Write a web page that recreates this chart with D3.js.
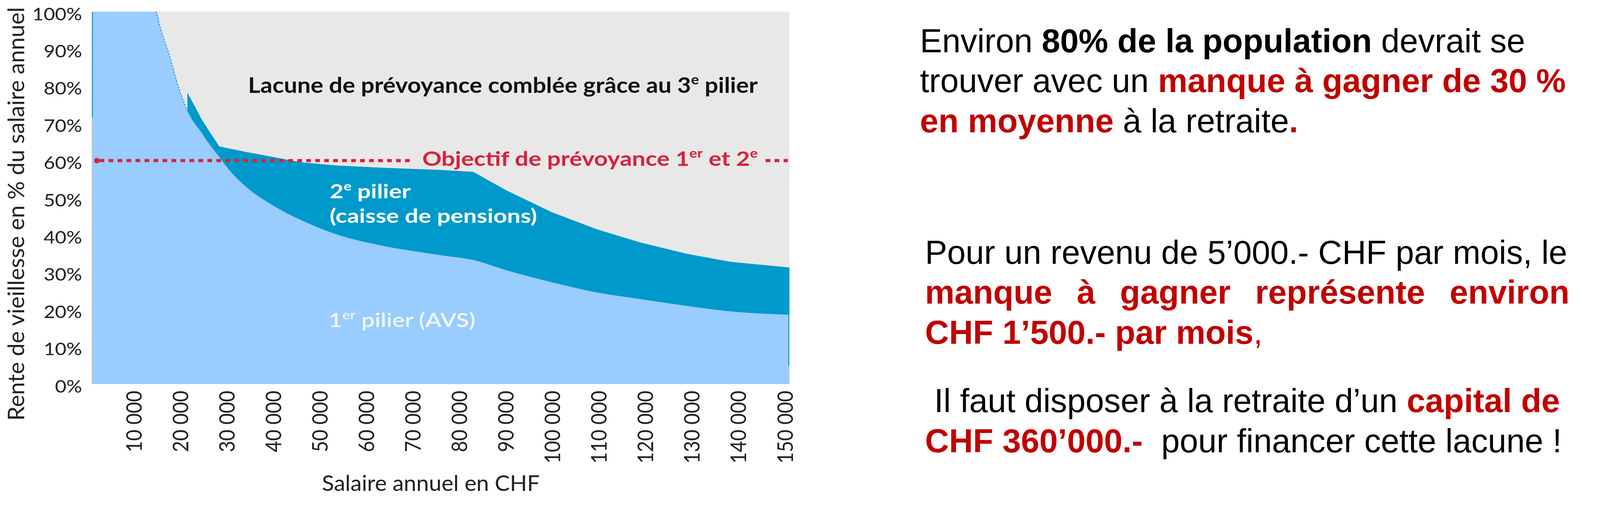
<!DOCTYPE html>
<html>
<head>
<meta charset="utf-8">
<script src="https://cdn.jsdelivr.net/npm/d3@7"></script>
<style>
  html, body { margin: 0; padding: 0; background: #fff; }
  svg { display: block; }
  text { white-space: pre; }
</style>
</head>
<body>
<div id="chart"></div>
<script>
// salaire annuel en CHF
var salaries = [1000, 14800, 16000, 17500, 19900, 21550, 24700, 26000, 28400, 30000, 34300, 39100,
                44000, 46400, 53600, 63200, 76000, 83000, 90000, 100000, 109500, 119000, 128800, 138400, 151000];
// rente 1er pilier (AVS) en % du salaire
var avsRate = [100, 100, 94.6, 89.0, 78.8, 73.4, 67.3, 64.9, 61.0, 58.3, 52.8, 48.6,
               45.2, 43.8, 40.2, 37.2, 34.6, 33.3, 30.6, 27.3, 24.6, 22.8, 21.0, 19.5, 18.6];
// rente 1er + 2e pilier en % du salaire (pas de 2e pilier sous ~21 500)
var totalRate = [null, null, null, null, null, 78.3, 70.9, 68.4, 63.8, 63.4, 62.3, 61.2,
                 60.0, 59.5, 58.7, 58.1, 57.5, 57.0, 52.1, 46.1, 41.6, 38.0, 35.0, 32.8, 31.3];

var xTicks = [10000, 20000, 30000, 40000, 50000, 60000, 70000, 80000, 90000, 100000,
              110000, 120000, 130000, 140000, 150000];
var yTicks = [0, 10, 20, 30, 40, 50, 60, 70, 80, 90, 100];
var objective = 60;

// petits traits foncés visibles sur les bords de la zone AVS
var leftEdge = [100, 71.5];
var rightEdge = [18.6, 5];
var avsEdgeRange = [14800, 21550];

var W = 4103, H = 1312;
var red = '#c00000', objRed = '#d9213a';
var chartFont = 'Lato, "Open Sans", sans-serif';
var textFont = '"Liberation Sans", Arial, sans-serif';

function draw() {
	var svg = d3.select('#chart').append('svg')
	            .attr('width', W)
	            .attr('height', H);

	var x = d3.scaleLinear().domain([1000, 151000]).range([235, 2021]);
	var y = d3.scaleLinear().domain([0, 100]).range([984, 30]);

	var rows = salaries.map(function (s, i) {
		return { s: s, avs: avsRate[i], total: totalRate[i] };
	});

	// fond gris = lacune de prévoyance
	svg.append('rect')
	   .attr('x', x(1000)).attr('y', y(100))
	   .attr('width', x(151000) - x(1000))
	   .attr('height', y(0) - y(100))
	   .style('fill', '#e8e8e8');

	// 1er + 2e pilier (angles nets), puis l'AVS (courbe lisse) par-dessus
	var totalArea = d3.area()
	                  .defined(function (d) { return d.total != null; })
	                  .x(function (d) { return x(d.s); })
	                  .y0(y(0))
	                  .y1(function (d) { return y(d.total); });

	var avsArea = d3.area()
	                .curve(d3.curveMonotoneX)
	                .x(function (d) { return x(d.s); })
	                .y0(y(0))
	                .y1(function (d) { return y(d.avs); });

	svg.append('path').datum(rows).attr('d', totalArea).style('fill', '#0099cc');
	svg.append('path').datum(rows).attr('d', avsArea).style('fill', '#99ccff');

	// traits de bord
	svg.append('line')
	   .attr('x1', x(1000) + 1).attr('x2', x(1000) + 1)
	   .attr('y1', y(0)).attr('y2', y(leftEdge[1]))
	   .style('stroke', '#bfbfbf').style('stroke-width', 2);
	svg.append('line')
	   .attr('x1', x(1000) + 1.5).attr('x2', x(1000) + 1.5)
	   .attr('y1', y(leftEdge[0])).attr('y2', y(leftEdge[1]))
	   .style('stroke', '#2a9fd0').style('stroke-width', 3);
	svg.append('line')
	   .attr('x1', x(151000) - 1.5).attr('x2', x(151000) - 1.5)
	   .attr('y1', y(rightEdge[0])).attr('y2', y(rightEdge[1]))
	   .style('stroke', '#2a9fd0').style('stroke-width', 3);
	svg.append('path')
	   .datum(rows.filter(function (d) { return d.s >= avsEdgeRange[0] && d.s <= avsEdgeRange[1]; }))
	   .attr('d', d3.line().curve(d3.curveMonotoneX)
	                .x(function (d) { return x(d.s); }).y(function (d) { return y(d.avs); }))
	   .style('fill', 'none').style('stroke', '#1a9ad0')
	   .style('stroke-width', 2.5).style('stroke-dasharray', '4 4');

	// axe Y
	var yAxis = svg.append('g')
	               .attr('transform', 'translate(' + x(1000) + ',0)')
	               .call(d3.axisLeft(y).tickValues(yTicks).tickSize(0).tickPadding(25)
	                       .tickFormat(function (d) { return d + '%'; }));
	yAxis.select('.domain').remove();
	yAxis.selectAll('text')
	     .attr('x', 0).attr('dy', '0.48em')
	     .attr('transform', 'translate(-25,0) scale(1.14,1)')
	     .style('font-family', chartFont).style('font-size', '44px').style('fill', '#222');

	// axe X
	var xAxis = svg.append('g')
	               .attr('transform', 'translate(0,1001)')
	               .call(d3.axisBottom(x).tickValues(xTicks).tickSize(0)
	                       .tickFormat(function (d) { return d3.format(',')(d).replace(/,/g, ' '); }));
	xAxis.select('.domain').remove();
	xAxis.selectAll('text')
	     .attr('x', 0).attr('y', 0).attr('dy', '0.35em')
	     .attr('text-anchor', 'end')
	     .attr('transform', 'scale(1.14,1) rotate(-90)')
	     .style('font-family', chartFont).style('font-size', '50px').style('fill', '#222');

	// titres des axes
	var yTitle = svg.append('text')
	   .attr('text-anchor', 'middle')
	   .style('font-family', chartFont).style('font-size', '58px').style('fill', '#222')
	   .text('Rente de vieillesse en % du salaire annuel');
	var yLen = yTitle.node().getComputedTextLength();
	yTitle.attr('x', 0).attr('y', 0)
	      .attr('transform', 'translate(62,548) rotate(-90) scale(' + (1060 / yLen) + ',1)');

	var xTitle = svg.append('text')
	   .style('font-family', chartFont).style('font-size', '56px').style('fill', '#222')
	   .text('Salaire annuel en CHF');
	fitText(xTitle, 824, 1258, 558);

	// libellés dans le graphique
	var lacune = svg.append('text')
	   .style('font-family', chartFont).style('font-size', '56px')
	   .style('font-weight', 'bold').style('fill', '#111');
	addParts(lacune, [['Lacune de prévoyance comblée grâce au 3'], ['e', 'sup'], [' pilier']], 56);
	fitText(lacune, 635, 238, 1305);

	var obj = svg.append('text')
	   .style('font-family', chartFont).style('font-size', '52px')
	   .style('font-weight', 'bold').style('fill', objRed);
	addParts(obj, [['Objectif de prévoyance 1'], ['er', 'sup'], [' et 2'], ['e', 'sup']], 52);
	fitText(obj, 1081, 425, 859);
	var objEnd = 1081 + 859;

	var dots = [[x(1000) + 20, 1060], [objEnd + 20, x(151000) - 4]];
	svg.selectAll('line.objective')
	   .data(dots)
	   .enter()
	   .append('line')
	   .attr('class', 'objective')
	   .attr('x1', function (d) { return d[0]; })
	   .attr('x2', function (d) { return d[1]; })
	   .attr('y1', y(objective)).attr('y2', y(objective))
	   .style('stroke', objRed).style('stroke-width', 8)
	   .style('stroke-dasharray', '12 11');
	svg.append('circle')
	   .attr('cx', x(1000) + 13).attr('cy', y(objective)).attr('r', 7)
	   .style('fill', objRed);

	var p2a = svg.append('text')
	   .style('font-family', chartFont).style('font-size', '50px')
	   .style('font-weight', 'bold').style('fill', '#fff');
	addParts(p2a, [['2'], ['e', 'sup'], [' pilier']], 50);
	var p2b = svg.append('text')
	   .style('font-family', chartFont).style('font-size', '50px')
	   .style('font-weight', 'bold').style('fill', '#fff')
	   .text('(caisse de pensions)');
	var k2 = fitText(p2b, 844, 571, 531);
	fitText(p2a, 844, 508, null, k2);

	var p1 = svg.append('text')
	   .style('font-family', chartFont).style('font-size', '50px')
	   .style('font-weight', '600').style('fill', '#f4f6f8');
	addParts(p1, [['1'], ['er', 'sup'], [' pilier (AVS)']], 50);
	fitText(p1, 841, 838, 376);

	// texte à droite
	var lines = [
		{ y: 134, x: 2355, parts: [['Environ ', 'n', '#000'], ['80% de la population', 'b', '#000'], [' devrait se', 'n', '#000']] },
		{ y: 236, x: 2355, parts: [['trouver avec un ', 'n', '#000'], ['manque à gagner de 30 %', 'b', red]] },
		{ y: 339, x: 2355, parts: [['en moyenne', 'b', red], [' à la retraite', 'n', '#000'], ['.', 'b', red]] },
		{ y: 676, x: 2368, parts: [['Pour un revenu de 5’000.- CHF par mois, le', 'n', '#000']] },
		{ y: 778, x: 2368, justify: 4018, parts: [['manque à gagner représente environ', 'b', red]] },
		{ y: 881, x: 2368, parts: [['CHF 1’500.- par mois', 'b', red], [',', 'n', red]] },
		{ y: 1056, x: 2368, parts: [[' Il faut disposer à la retraite d’un ', 'n', '#000'], ['capital de', 'b', red]] },
		{ y: 1159, x: 2368, parts: [['CHF 360’000.-', 'b', red], ['  pour financer cette lacune !', 'n', '#000']] }
	];

	lines.forEach(function (ln) {
		var t = svg.append('text')
		           .attr('x', ln.x).attr('y', ln.y)
		           .attr('xml:space', 'preserve')
		           .style('font-family', textFont).style('font-size', '85px');
		ln.parts.forEach(function (p) {
			t.append('tspan')
			 .style('font-weight', p[1] === 'b' ? 'bold' : 'normal')
			 .style('fill', p[2])
			 .text(p[0]);
		});
		if (ln.justify) {
			var natural = t.node().getComputedTextLength();
			var gaps = (ln.parts[0][0].match(/ /g) || []).length;
			t.style('word-spacing', ((ln.justify - ln.x - natural) / gaps) + 'px');
		}
	});
}

// ajoute des morceaux de texte, avec exposants
function addParts(t, parts, size) {
	var up = Math.round(size * 0.4);
	var shifted = false;
	parts.forEach(function (p) {
		var ts = t.append('tspan').text(p[0]);
		if (p[1] === 'sup') {
			ts.style('font-size', Math.round(size * 0.62) + 'px').attr('dy', shifted ? 0 : -up);
			shifted = true;
		} else if (shifted) {
			ts.attr('dy', up);
			shifted = false;
		}
	});
}

// place un texte et l'étire horizontalement à la largeur voulue
function fitText(t, x0, y0, w, kForce) {
	var len = t.node().getComputedTextLength();
	var k = kForce || (w ? w / len : 1);
	t.attr('x', 0).attr('y', 0)
	 .attr('transform', 'translate(' + x0 + ',' + y0 + ') scale(' + k + ',1)');
	return k;
}

if (document.fonts && document.fonts.ready) {
	document.fonts.ready.then(draw);
} else {
	draw();
}
</script>
</body>
</html>
